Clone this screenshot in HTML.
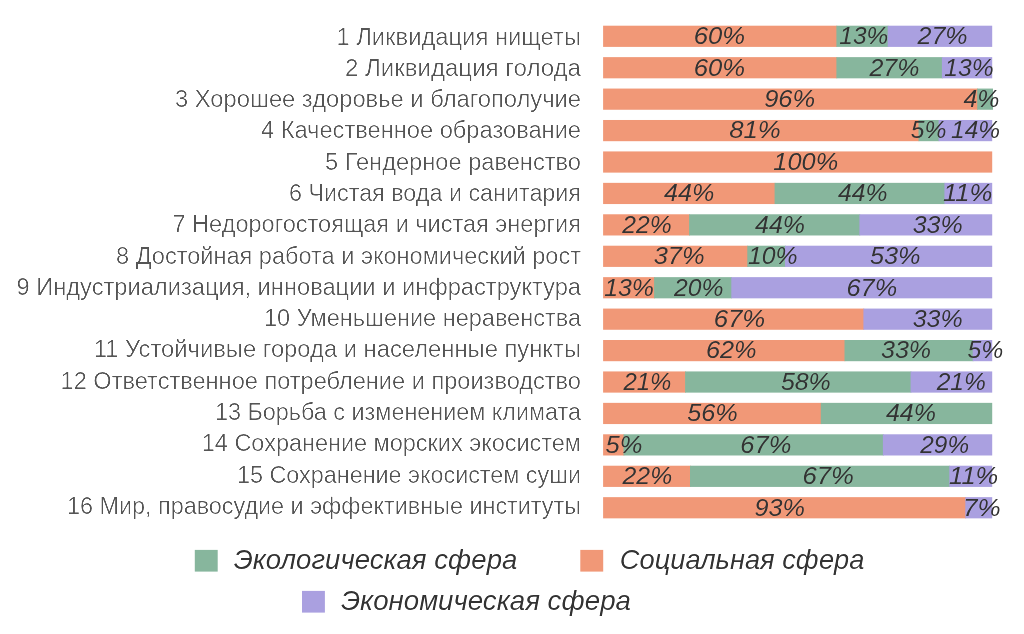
<!DOCTYPE html>
<html lang="ru">
<head>
<meta charset="utf-8">
<title>Диаграмма</title>
<style>
html,body{margin:0;padding:0;background:#fff;}
body{width:1024px;height:634px;overflow:hidden;}
svg{display:block;will-change:transform;font-family:"Liberation Sans",sans-serif;}
.yl{font-size:23.0px;fill:#555555;}
.bl{font-size:23.2px;font-style:italic;fill:#333333;}
.lg{font-size:28px;font-style:italic;fill:#333333;}
</style>
</head>
<body>
<svg width="1024" height="634" viewBox="0 0 1024 634">
<rect width="1024" height="634" fill="#ffffff"/>
<defs>
<filter id="thinA" x="-2%" y="-30%" width="104%" height="160%" color-interpolation-filters="sRGB"><feComponentTransfer><feFuncA type="linear" slope="1.8" intercept="-0.8"/></feComponentTransfer></filter>
<filter id="thinB" x="-10%" y="-30%" width="120%" height="160%" color-interpolation-filters="sRGB"><feComponentTransfer><feFuncA type="linear" slope="1.1" intercept="-0.1"/></feComponentTransfer></filter>
<filter id="thinC" x="-5%" y="-30%" width="110%" height="160%" color-interpolation-filters="sRGB"><feComponentTransfer><feFuncA type="linear" slope="1.15" intercept="-0.15"/></feComponentTransfer></filter>
</defs>

<text class="yl" filter="url(#thinA)" x="336.40" y="44.50" textLength="244.60" lengthAdjust="spacingAndGlyphs">1 Ликвидация нищеты</text>
<rect x="603.10" y="25.70" width="234.10" height="21.2" fill="#F19877"/>
<rect x="836.40" y="25.70" width="52.10" height="21.2" fill="#87B69D"/>
<rect x="887.70" y="25.70" width="104.50" height="21.2" fill="#AAA0E0"/>
<text class="bl" filter="url(#thinB)" x="693.80" y="44.10" textLength="51.30" lengthAdjust="spacingAndGlyphs">60%</text>
<text class="bl" filter="url(#thinB)" x="839.30" y="44.10" textLength="48.90" lengthAdjust="spacingAndGlyphs">13%</text>
<text class="bl" filter="url(#thinB)" x="917.50" y="44.10" textLength="50.10" lengthAdjust="spacingAndGlyphs">27%</text>
<text class="yl" filter="url(#thinA)" x="344.90" y="75.79" textLength="236.10" lengthAdjust="spacingAndGlyphs">2 Ликвидация голода</text>
<rect x="603.10" y="57.13" width="234.10" height="21.2" fill="#F19877"/>
<rect x="836.40" y="57.13" width="106.30" height="21.2" fill="#87B69D"/>
<rect x="941.90" y="57.13" width="50.30" height="21.2" fill="#AAA0E0"/>
<text class="bl" filter="url(#thinB)" x="693.80" y="75.53" textLength="51.30" lengthAdjust="spacingAndGlyphs">60%</text>
<text class="bl" filter="url(#thinB)" x="869.50" y="75.53" textLength="49.90" lengthAdjust="spacingAndGlyphs">27%</text>
<text class="bl" filter="url(#thinB)" x="944.30" y="75.53" textLength="49.40" lengthAdjust="spacingAndGlyphs">13%</text>
<text class="yl" filter="url(#thinA)" x="175.00" y="107.08" textLength="406.00" lengthAdjust="spacingAndGlyphs">3 Хорошее здоровье и благополучие</text>
<rect x="603.10" y="88.56" width="374.90" height="21.2" fill="#F19877"/>
<rect x="977.20" y="88.56" width="15.80" height="21.2" fill="#87B69D"/>
<text class="bl" filter="url(#thinB)" x="764.20" y="106.96" textLength="51.00" lengthAdjust="spacingAndGlyphs">96%</text>
<text class="bl" filter="url(#thinB)" x="963.40" y="106.96" textLength="36.00" lengthAdjust="spacingAndGlyphs">4%</text>
<text class="yl" filter="url(#thinA)" x="261.00" y="138.37" textLength="320.00" lengthAdjust="spacingAndGlyphs">4 Качественное образование</text>
<rect x="603.10" y="119.99" width="316.20" height="21.2" fill="#F19877"/>
<rect x="918.50" y="119.99" width="20.90" height="21.2" fill="#87B69D"/>
<rect x="938.60" y="119.99" width="53.60" height="21.2" fill="#AAA0E0"/>
<text class="bl" filter="url(#thinB)" x="729.20" y="138.39" textLength="51.60" lengthAdjust="spacingAndGlyphs">81%</text>
<text class="bl" filter="url(#thinB)" x="910.80" y="138.39" textLength="35.70" lengthAdjust="spacingAndGlyphs">5%</text>
<text class="bl" filter="url(#thinB)" x="951.00" y="138.39" textLength="49.10" lengthAdjust="spacingAndGlyphs">14%</text>
<text class="yl" filter="url(#thinA)" x="325.00" y="169.66" textLength="256.00" lengthAdjust="spacingAndGlyphs">5 Гендерное равенство</text>
<rect x="603.10" y="151.42" width="389.10" height="21.2" fill="#F19877"/>
<text class="bl" filter="url(#thinB)" x="773.30" y="169.82" textLength="64.90" lengthAdjust="spacingAndGlyphs">100%</text>
<text class="yl" filter="url(#thinA)" x="289.00" y="200.95" textLength="292.00" lengthAdjust="spacingAndGlyphs">6 Чистая вода и санитария</text>
<rect x="603.10" y="182.85" width="172.30" height="21.2" fill="#F19877"/>
<rect x="774.60" y="182.85" width="170.60" height="21.2" fill="#87B69D"/>
<rect x="944.40" y="182.85" width="47.80" height="21.2" fill="#AAA0E0"/>
<text class="bl" filter="url(#thinB)" x="664.10" y="201.25" textLength="50.30" lengthAdjust="spacingAndGlyphs">44%</text>
<text class="bl" filter="url(#thinB)" x="837.90" y="201.25" textLength="49.50" lengthAdjust="spacingAndGlyphs">44%</text>
<text class="bl" filter="url(#thinB)" x="942.90" y="201.25" textLength="49.50" lengthAdjust="spacingAndGlyphs">11%</text>
<text class="yl" filter="url(#thinA)" x="172.50" y="232.24" textLength="408.50" lengthAdjust="spacingAndGlyphs">7 Недорогостоящая и чистая энергия</text>
<rect x="603.10" y="214.28" width="86.80" height="21.2" fill="#F19877"/>
<rect x="689.10" y="214.28" width="171.10" height="21.2" fill="#87B69D"/>
<rect x="859.40" y="214.28" width="132.80" height="21.2" fill="#AAA0E0"/>
<text class="bl" filter="url(#thinB)" x="622.30" y="232.68" textLength="49.40" lengthAdjust="spacingAndGlyphs">22%</text>
<text class="bl" filter="url(#thinB)" x="755.10" y="232.68" textLength="49.90" lengthAdjust="spacingAndGlyphs">44%</text>
<text class="bl" filter="url(#thinB)" x="912.70" y="232.68" textLength="50.00" lengthAdjust="spacingAndGlyphs">33%</text>
<text class="yl" filter="url(#thinA)" x="116.00" y="263.53" textLength="465.00" lengthAdjust="spacingAndGlyphs">8 Достойная работа и экономический рост</text>
<rect x="603.10" y="245.71" width="145.00" height="21.2" fill="#F19877"/>
<rect x="747.30" y="245.71" width="38.50" height="21.2" fill="#87B69D"/>
<rect x="785.00" y="245.71" width="207.20" height="21.2" fill="#AAA0E0"/>
<text class="bl" filter="url(#thinB)" x="653.70" y="264.11" textLength="50.90" lengthAdjust="spacingAndGlyphs">37%</text>
<text class="bl" filter="url(#thinB)" x="747.90" y="264.11" textLength="49.70" lengthAdjust="spacingAndGlyphs">10%</text>
<text class="bl" filter="url(#thinB)" x="870.00" y="264.11" textLength="50.60" lengthAdjust="spacingAndGlyphs">53%</text>
<text class="yl" filter="url(#thinA)" x="16.50" y="294.82" textLength="564.50" lengthAdjust="spacingAndGlyphs">9 Индустриализация, инновации и инфраструктура</text>
<rect x="603.10" y="277.14" width="51.80" height="21.2" fill="#F19877"/>
<rect x="654.10" y="277.14" width="78.00" height="21.2" fill="#87B69D"/>
<rect x="731.30" y="277.14" width="260.90" height="21.2" fill="#AAA0E0"/>
<text class="bl" filter="url(#thinB)" x="604.20" y="295.54" textLength="49.80" lengthAdjust="spacingAndGlyphs">13%</text>
<text class="bl" filter="url(#thinB)" x="673.90" y="295.54" textLength="49.50" lengthAdjust="spacingAndGlyphs">20%</text>
<text class="bl" filter="url(#thinB)" x="846.50" y="295.54" textLength="50.70" lengthAdjust="spacingAndGlyphs">67%</text>
<text class="yl" filter="url(#thinA)" x="264.00" y="326.11" textLength="317.00" lengthAdjust="spacingAndGlyphs">10 Уменьшение неравенства</text>
<rect x="603.10" y="308.57" width="261.10" height="21.2" fill="#F19877"/>
<rect x="863.40" y="308.57" width="128.80" height="21.2" fill="#AAA0E0"/>
<text class="bl" filter="url(#thinB)" x="713.70" y="326.97" textLength="51.50" lengthAdjust="spacingAndGlyphs">67%</text>
<text class="bl" filter="url(#thinB)" x="912.70" y="326.97" textLength="50.00" lengthAdjust="spacingAndGlyphs">33%</text>
<text class="yl" filter="url(#thinA)" x="93.80" y="357.40" textLength="487.20" lengthAdjust="spacingAndGlyphs">11 Устойчивые города и населенные пункты</text>
<rect x="603.10" y="340.00" width="242.20" height="21.2" fill="#F19877"/>
<rect x="844.50" y="340.00" width="129.00" height="21.2" fill="#87B69D"/>
<rect x="972.70" y="340.00" width="19.50" height="21.2" fill="#AAA0E0"/>
<text class="bl" filter="url(#thinB)" x="705.90" y="358.40" textLength="50.70" lengthAdjust="spacingAndGlyphs">62%</text>
<text class="bl" filter="url(#thinB)" x="881.00" y="358.40" textLength="50.10" lengthAdjust="spacingAndGlyphs">33%</text>
<text class="bl" filter="url(#thinB)" x="967.50" y="358.40" textLength="35.90" lengthAdjust="spacingAndGlyphs">5%</text>
<text class="yl" filter="url(#thinA)" x="60.60" y="388.69" textLength="520.40" lengthAdjust="spacingAndGlyphs">12 Ответственное потребление и производство</text>
<rect x="603.10" y="371.43" width="82.80" height="21.2" fill="#F19877"/>
<rect x="685.10" y="371.43" width="226.30" height="21.2" fill="#87B69D"/>
<rect x="910.60" y="371.43" width="81.60" height="21.2" fill="#AAA0E0"/>
<text class="bl" filter="url(#thinB)" x="623.40" y="389.83" textLength="48.00" lengthAdjust="spacingAndGlyphs">21%</text>
<text class="bl" filter="url(#thinB)" x="780.90" y="389.83" textLength="49.90" lengthAdjust="spacingAndGlyphs">58%</text>
<text class="bl" filter="url(#thinB)" x="936.70" y="389.83" textLength="49.20" lengthAdjust="spacingAndGlyphs">21%</text>
<text class="yl" filter="url(#thinA)" x="215.00" y="419.98" textLength="366.00" lengthAdjust="spacingAndGlyphs">13 Борьба с изменением климата</text>
<rect x="603.10" y="402.86" width="218.50" height="21.2" fill="#F19877"/>
<rect x="820.80" y="402.86" width="171.40" height="21.2" fill="#87B69D"/>
<text class="bl" filter="url(#thinB)" x="687.20" y="421.26" textLength="50.60" lengthAdjust="spacingAndGlyphs">56%</text>
<text class="bl" filter="url(#thinB)" x="885.90" y="421.26" textLength="50.00" lengthAdjust="spacingAndGlyphs">44%</text>
<text class="yl" filter="url(#thinA)" x="201.80" y="451.27" textLength="379.20" lengthAdjust="spacingAndGlyphs">14 Сохранение морских экосистем</text>
<rect x="603.10" y="434.29" width="21.20" height="21.2" fill="#F19877"/>
<rect x="623.50" y="434.29" width="260.20" height="21.2" fill="#87B69D"/>
<rect x="882.90" y="434.29" width="109.30" height="21.2" fill="#AAA0E0"/>
<text class="bl" filter="url(#thinB)" x="605.60" y="452.69" textLength="36.90" lengthAdjust="spacingAndGlyphs">5%</text>
<text class="bl" filter="url(#thinB)" x="740.30" y="452.69" textLength="51.00" lengthAdjust="spacingAndGlyphs">67%</text>
<text class="bl" filter="url(#thinB)" x="920.30" y="452.69" textLength="48.80" lengthAdjust="spacingAndGlyphs">29%</text>
<text class="yl" filter="url(#thinA)" x="237.00" y="482.56" textLength="344.00" lengthAdjust="spacingAndGlyphs">15 Сохранение экосистем суши</text>
<rect x="603.10" y="465.72" width="87.70" height="21.2" fill="#F19877"/>
<rect x="690.00" y="465.72" width="260.10" height="21.2" fill="#87B69D"/>
<rect x="949.30" y="465.72" width="42.90" height="21.2" fill="#AAA0E0"/>
<text class="bl" filter="url(#thinB)" x="622.60" y="484.12" textLength="49.60" lengthAdjust="spacingAndGlyphs">22%</text>
<text class="bl" filter="url(#thinB)" x="802.40" y="484.12" textLength="51.40" lengthAdjust="spacingAndGlyphs">67%</text>
<text class="bl" filter="url(#thinB)" x="949.10" y="484.12" textLength="49.20" lengthAdjust="spacingAndGlyphs">11%</text>
<text class="yl" filter="url(#thinA)" x="67.00" y="513.85" textLength="514.00" lengthAdjust="spacingAndGlyphs">16 Мир, правосудие и эффективные институты</text>
<rect x="603.10" y="497.15" width="363.00" height="21.2" fill="#F19877"/>
<rect x="965.30" y="497.15" width="26.90" height="21.2" fill="#AAA0E0"/>
<text class="bl" filter="url(#thinB)" x="754.50" y="515.55" textLength="50.50" lengthAdjust="spacingAndGlyphs">93%</text>
<text class="bl" filter="url(#thinB)" x="963.00" y="515.55" textLength="37.60" lengthAdjust="spacingAndGlyphs">7%</text>
<rect x="194.8" y="549.9" width="22.9" height="21.7" fill="#87B69D"/>
<text class="lg" filter="url(#thinC)" x="233.70" y="569.40" textLength="283.70" lengthAdjust="spacingAndGlyphs">Экологическая сфера</text>
<rect x="580.3" y="549.9" width="22.9" height="21.7" fill="#F19877"/>
<text class="lg" filter="url(#thinC)" x="619.80" y="569.40" textLength="244.60" lengthAdjust="spacingAndGlyphs">Социальная сфера</text>
<rect x="302.0" y="590.9" width="22.9" height="21.7" fill="#AAA0E0"/>
<text class="lg" filter="url(#thinC)" x="340.90" y="610.20" textLength="290.10" lengthAdjust="spacingAndGlyphs">Экономическая сфера</text>
</svg>
</body>
</html>
